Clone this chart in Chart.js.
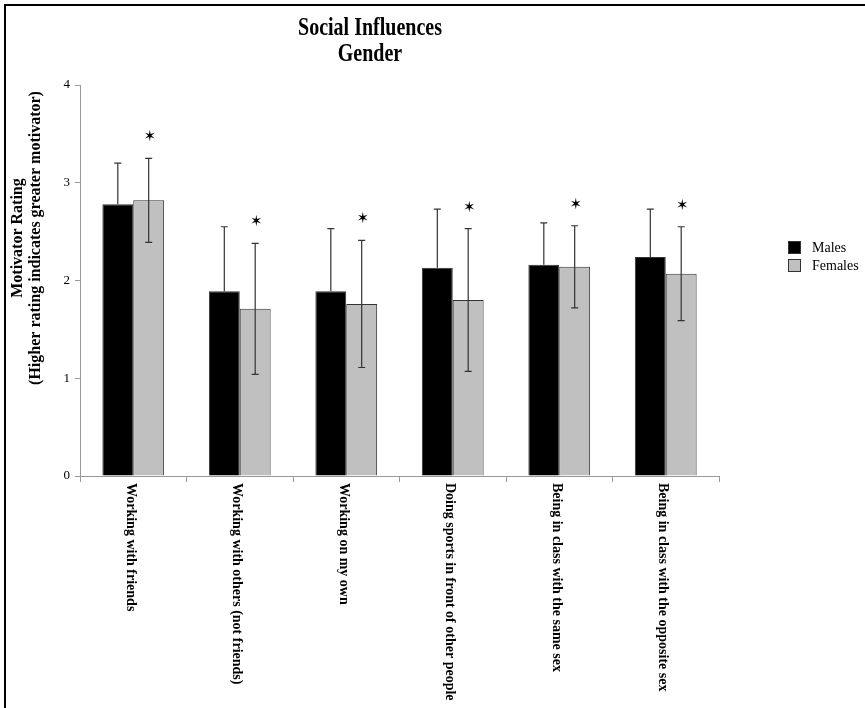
<!DOCTYPE html>
<html><head><meta charset="utf-8">
<script src="https://cdn.jsdelivr.net/npm/chart.js@4/dist/chart.umd.min.js"></script>
<style>html,body{margin:0;padding:0;background:#fff}#wrap{width:865px;height:708px;position:relative}</style>
</head><body><div id="wrap"><canvas id="c" width="865" height="708"></canvas></div>
<script>
const categories = [
  'Working with friends',
  'Working with others (not friends)',
  'Working on my own',
  'Doing sports in front of other people',
  'Being in class with the same sex',
  'Being in class with the opposite sex'
];
const seriesNames = ['Males', 'Females'];
const males = [2.78, 1.89, 1.89, 2.13, 2.16, 2.24];
const females = [2.82, 1.71, 1.76, 1.80, 2.14, 2.07];
const malesSD = [0.42, 0.66, 0.64, 0.60, 0.43, 0.49];
const femalesSD = [0.43, 0.67, 0.65, 0.73, 0.42, 0.48];
const starred = [true, true, true, true, true, true];
const titleLines = ['Social Influences', 'Gender'];
const yTitle = ['Motivator Rating', '(Higher rating indicates greater motivator)'];
const yMin = 0, yMax = 4, yStep = 1;

const SERIF = '"Liberation Serif", "DejaVu Serif", serif';
const colors = ['#000000', '#c0c0c0'];

const errorBars = {
  id: 'errorBars',
  afterDatasetsDraw(chart) {
    const y = chart.scales.y, ctx = chart.ctx;
    const sets = [[males, malesSD, false], [females, femalesSD, true]];
    ctx.save();
    ctx.strokeStyle = '#333';
    ctx.lineWidth = 1.2;
    sets.forEach((s, di) => {
      const meta = chart.getDatasetMeta(di);
      meta.data.forEach((bar, i) => {
        const x = bar.x;
        const top = y.getPixelForValue(s[0][i] + s[1][i]);
        const bot = s[2] ? y.getPixelForValue(s[0][i] - s[1][i]) : y.getPixelForValue(s[0][i]);
        ctx.beginPath();
        ctx.moveTo(x, top); ctx.lineTo(x, bot);
        ctx.moveTo(x - 3.5, top); ctx.lineTo(x + 3.5, top);
        if (s[2]) { ctx.moveTo(x - 3.5, bot); ctx.lineTo(x + 3.5, bot); }
        ctx.stroke();
        if (s[2] && starred[i]) {
          ctx.fillStyle = '#000';
          ctx.font = '15px "DejaVu Sans", sans-serif';
          ctx.textAlign = 'center';
          ctx.textBaseline = 'middle';
          ctx.fillText('\u2736', x + 1, top - 21);
        }
      });
    });
    ctx.restore();
  }
};

const decor = {
  id: 'decor',
  afterDraw(chart) {
    const ctx = chart.ctx, xs = chart.scales.x;
    ctx.save();
    // frame
    ctx.strokeStyle = '#000';
    ctx.lineWidth = 2;
    ctx.beginPath();
    ctx.moveTo(5, 708); ctx.lineTo(5, 5); ctx.lineTo(865, 5);
    ctx.stroke();
    // title
    ctx.fillStyle = '#000';
    ctx.textAlign = 'center';
    ctx.textBaseline = 'alphabetic';
    ctx.font = 'bold 25px ' + SERIF;
    titleLines.forEach((t, i) => {
      ctx.save();
      ctx.translate(370, 35 + i * 26);
      ctx.scale(0.8, 1);
      ctx.fillText(t, 0, 0);
      ctx.restore();
    });
    // y axis title (two lines, rotated)
    ctx.font = 'bold 16px ' + SERIF;
    ctx.textBaseline = 'middle';
    yTitle.forEach((t, i) => {
      ctx.save();
      ctx.translate(18 + i * 18, 238);
      ctx.rotate(-Math.PI / 2);
      ctx.fillText(t, 0, 0);
      ctx.restore();
    });
    // x labels rotated clockwise
    ctx.font = 'bold 14px ' + SERIF;
    ctx.textAlign = 'left';
    ctx.textBaseline = 'middle';
    categories.forEach((c, i) => {
      const x = xs.getPixelForValue(i);
      ctx.save();
      ctx.translate(x - 3, xs.top + 7);
      ctx.rotate(Math.PI / 2);
      ctx.fillText(c, 0, 0);
      ctx.restore();
    });
    // legend
    ctx.font = '14px ' + SERIF;
    ctx.textBaseline = 'middle';
    seriesNames.forEach((n, i) => {
      const ly = 241 + i * 18;
      ctx.fillStyle = colors[i];
      ctx.fillRect(788, ly, 13, 13);
      ctx.strokeStyle = '#333';
      ctx.lineWidth = 1;
      ctx.strokeRect(788.5, ly + 0.5, 12, 12);
      ctx.fillStyle = '#000';
      ctx.fillText(n, 812, ly + 7);
    });
    ctx.restore();
  }
};

new Chart(document.getElementById('c'), {
  type: 'bar',
  data: {
    labels: categories,
    datasets: [
      { label: seriesNames[0], data: males, backgroundColor: colors[0], borderColor: '#333', borderWidth: 1 },
      { label: seriesNames[1], data: females, backgroundColor: colors[1], borderColor: '#333', borderWidth: 1 }
    ]
  },
  options: {
    responsive: false,
    animation: false,
    devicePixelRatio: 1,
    layout: { padding: { left: 8, top: 85, right: 146, bottom: 0 } },
    plugins: { legend: { display: false }, title: { display: false }, tooltip: { enabled: false } },
    datasets: { bar: { barPercentage: 1, categoryPercentage: 0.58 } },
    scales: {
      x: {
        grid: { offset: true, drawOnChartArea: false, drawTicks: true, tickLength: 6, color: '#999' },
        border: { color: '#999' },
        ticks: { display: false },
        afterFit(s) { s.height = 232; }
      },
      y: {
        min: yMin, max: yMax,
        ticks: { stepSize: yStep, color: '#000', font: { family: SERIF, size: 13 }, padding: 5 },
        grid: { drawOnChartArea: false, drawTicks: true, tickLength: 5, color: '#999' },
        border: { color: '#999' },
        title: { display: false },
        afterFit(s) { s.width = 72; }
      }
    }
  },
  plugins: [errorBars, decor]
});
</script>
</body></html>
